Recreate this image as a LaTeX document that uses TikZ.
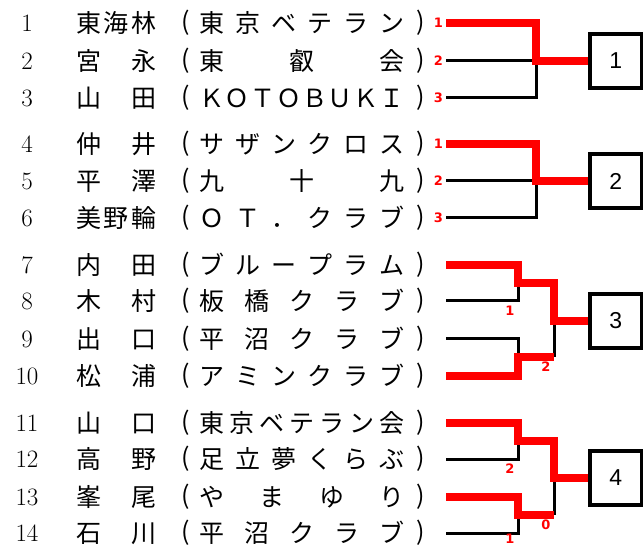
\documentclass[tikz,border=0pt]{standalone}
\usepackage{fontspec}
\newfontfamily\jp{Noto Sans CJK JP}
\newfontfamily\boxfont{Liberation Sans}
\newfontfamily\scorefont{DejaVu Sans}
\makeatletter
\newcommand\spreadtxt[1]{\edef\sp@tmp{#1}\expandafter\sp@go\expandafter{\sp@tmp}}
\def\sp@go#1{\let\sp@first\relax\@tfor\sp@c:=#1\do{\ifx\sp@first\@empty\hfill\fi\sp@c\let\sp@first\@empty}}
\makeatother
\tikzset{
  num/.style={inner sep=0pt, anchor=base, font=\fontsize{25}{25}\selectfont},
  jpt/.style={inner sep=0pt, anchor=base west, font=\jp\fontsize{25}{25}\selectfont},
  win/.style={draw=red, line width=8pt},
  lose/.style={draw=black, line width=3pt},
  score/.style={text=red, font=\scorefont\bfseries\fontsize{13}{13}\selectfont, inner sep=0pt},
  result/.style={draw, line width=4pt, minimum width=51.5pt, minimum height=54pt, inner sep=0pt, font=\boxfont\fontsize{23}{23}\selectfont}
}
\begin{document}
\begin{tikzpicture}[x=1pt,y=-1pt]
\useasboundingbox[fill=white] (0,0) rectangle (643,545);
% entries
\foreach \i/\y/\nm/\cl in {
 1/23/東海林/東京ベテラン,
 2/61/宮永/東叡会,
 3/98/山田/ＫＯＴＯＢＵＫＩ,
 4/144/仲井/サザンクロス,
 5/181/平澤/九十九,
 6/218/美野輪/ＯＴ．クラブ,
 7/265/内田/ブループラム,
 8/301/木村/板橋クラブ,
 9/339/出口/平沼クラブ,
 10/376/松浦/アミンクラブ,
 11/423/山口/東京ベテラン会,
 12/459/高野/足立夢くらぶ,
 13/497/峯尾/やまゆり,
 14/533/石川/平沼クラブ}{
  \node[num] (n\i) at (27,\y+8.5) {\i};
  \node[jpt] (m\i) at (76,\y+9.5) {\makebox[80pt][s]{\spreadtxt{\nm}}};
  \node[jpt] (lp\i) at (181,\y+7.5) {(};
  \node[jpt] (c\i) at (199,\y+9.5) {\makebox[205pt][s]{\spreadtxt{\cl}}};
  \node[jpt] (rp\i) at (416,\y+7.5) {)};
  \coordinate (e\i) at (446,\y);
}
% result boxes
\node[result] (b1) at (615.75,61) {1};
\node[result] (b2) at (615.75,181) {2};
\node[result] (b3) at (615.75,321) {3};
\node[result] (b4) at (615.75,478) {4};
% group 1
\coordinate (g1a) at (536,23); \coordinate (g1j) at (536,61); \coordinate (g1c) at (536,98);
\draw[lose] (e2) -- (g1j);
\draw[lose] (e3) -- (g1c) -- (g1j);
\draw[win] (e1) -- (g1a) -- (g1j) -- (b1.west);
\node[score] (s1) at (438.5,23) {1};
\node[score] (s2) at (438.5,61) {2};
\node[score] (s3) at (438.5,98) {3};
% group 2
\coordinate (g2a) at (536,144); \coordinate (g2j) at (536,181); \coordinate (g2c) at (536,218);
\draw[lose] (e5) -- (g2j);
\draw[lose] (e6) -- (g2c) -- (g2j);
\draw[win] (e4) -- (g2a) -- (g2j) -- (b2.west);
\node[score] (s4) at (438.5,144) {1};
\node[score] (s5) at (438.5,181) {2};
\node[score] (s6) at (438.5,218) {3};
% group 3
\coordinate (a7) at (518,265); \coordinate (q31) at (518,283); \coordinate (a8) at (518,301);
\coordinate (a9) at (518,339); \coordinate (q32) at (518,357); \coordinate (a10) at (518,376);
\coordinate (f31) at (554,283); \coordinate (f3) at (554,321); \coordinate (f32) at (554,357);
\draw[lose] (e8) -- (a8) -- (q31);
\draw[lose] (e9) -- (a9) -- (q32);
\draw[lose] (f3) -- (f32);
\draw[win] (e7) -- (a7) -- (q31) -- (f31) -- (f3) -- (b3.west);
\draw[win] (e10) -- (a10) -- (q32) -- (f32);
\node[score] (s7) at (510,311) {1};
\node[score] (s8) at (546,367) {2};
% group 4
\coordinate (a11) at (518,423); \coordinate (q41) at (518,441); \coordinate (a12) at (518,459);
\coordinate (a13) at (518,497); \coordinate (q42) at (518,514.5); \coordinate (a14) at (518,533);
\coordinate (f41) at (554,441); \coordinate (f4) at (554,478); \coordinate (f42) at (554,514.5);
\draw[lose] (e12) -- (a12) -- (q41);
\draw[lose] (e14) -- (a14) -- (q42);
\draw[lose] (f4) -- (f42);
\draw[win] (e11) -- (a11) -- (q41) -- (f41) -- (f4) -- (b4.west);
\draw[win] (e13) -- (a13) -- (q42) -- (f42);
\node[score] (s9) at (510,469) {2};
\node[score] (s10) at (546,525) {0};
\node[score] (s11) at (510,538.5) {1};
\end{tikzpicture}
\end{document}
